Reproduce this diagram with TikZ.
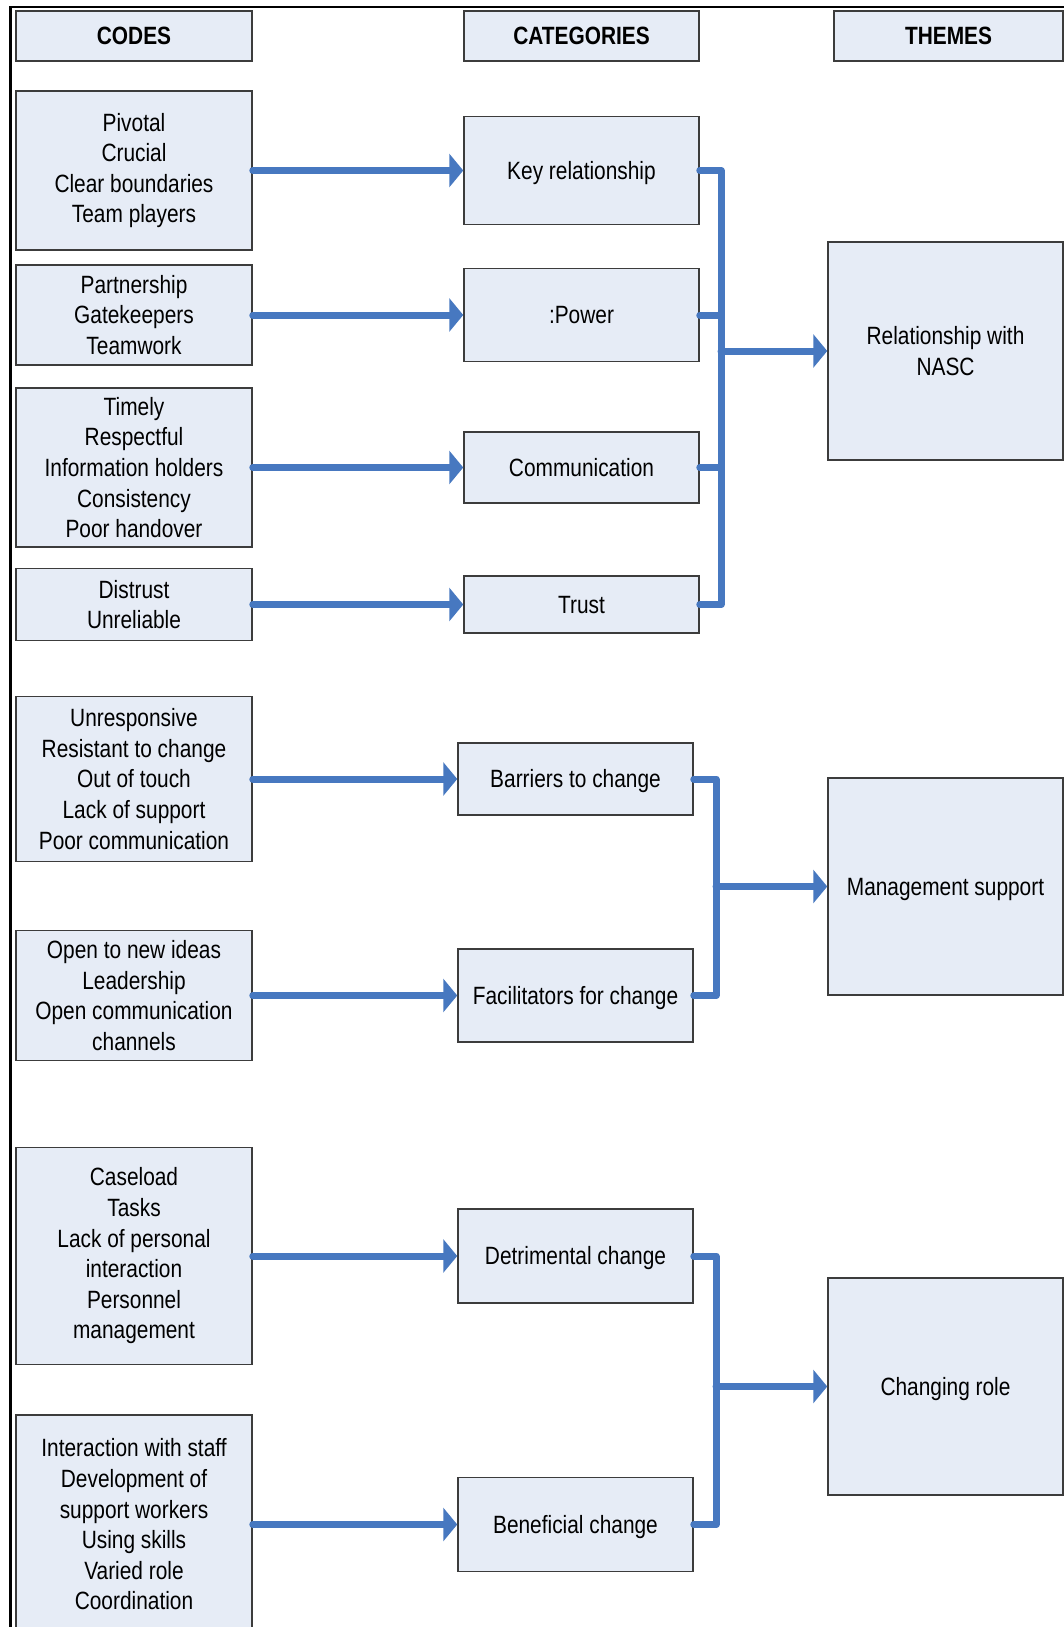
\documentclass[tikz,border=0pt]{standalone}
\usepackage{fontspec}
\setmainfont{Liberation Sans}[FakeStretch=0.835]
\usetikzlibrary{arrows.meta}
\definecolor{boxfill}{RGB}{230,236,246}
\definecolor{boxline}{RGB}{60,60,60}
\definecolor{flow}{RGB}{71,120,192}
\begin{document}
\begin{tikzpicture}[x=1pt,y=-1pt,
  box/.style={draw=boxline, line width=1.5pt, fill=boxfill, inner sep=0pt,
    align=center, font=\fontsize{25}{30.6}\selectfont},
  oneline/.style={text height=22.6pt, text depth=5.3pt},
  head/.style={box, font=\fontsize{25}{30.6}\selectfont\bfseries},
  codebox/.style={box, minimum width=236pt},
  catbox/.style={box, oneline, minimum width=235pt},
  themebox/.style={box, minimum width=235pt, minimum height=217pt},
  arr/.style={draw=flow, line width=7pt, line cap=round,
    -{Triangle[width=33pt,length=14pt]}},
  bar/.style={draw=flow, line width=7pt, line cap=round, line join=round},
  frame/.style={draw=black, line width=2.5pt}]
\useasboundingbox (0,0) rectangle (1064,1627);
\clip (0,0) rectangle (1064,1627);

% outer frame (left and top edges)
\draw[frame] (10.7,1640) |- (1070,7);

% column headings
\node[head, minimum width=236pt, minimum height=50pt] (hcodes) at (134,36) {CODES};
\node[head, minimum width=235pt, minimum height=50pt] (hcats) at (581.5,36) {CATEGORIES};
\node[head, minimum width=229pt, minimum height=50pt] (hthemes) at (948.5,36) {THEMES};

% codes
\node[codebox, minimum height=159pt] (c1) at (134,170.5) {Pivotal\\Crucial\\Clear boundaries\\Team players};
\node[codebox, minimum height=100pt] (c2) at (134,315) {Partnership\\Gatekeepers\\Teamwork};
\node[codebox, minimum height=159pt] (c3) at (134,467.5) {Timely\\Respectful\\Information holders\\Consistency\\Poor handover};
\node[codebox, minimum height=72pt] (c4) at (134,604.5) {Distrust\\Unreliable};
\node[codebox, minimum height=165pt] (c5) at (134,779) {Unresponsive\\Resistant to change\\Out of touch\\Lack of support\\Poor communication};
\node[codebox, minimum height=130pt] (c6) at (134,995.5) {Open to new ideas\\Leadership\\Open communication\\channels};
\node[codebox, minimum height=217pt] (c7) at (134,1256) {Caseload\\Tasks\\Lack of personal\\interaction\\Personnel\\management};
\node[codebox, minimum height=219pt] (c8) at (134,1524.5) {Interaction with staff\\Development of\\support workers\\Using skills\\Varied role\\Coordination};

% categories
\node[catbox, minimum height=108pt] (k1) at (581.5,170.5) {Key relationship};
\node[catbox, minimum height=93pt] (k2) at (581.5,315) {:Power};
\node[catbox, minimum height=71pt] (k3) at (581.5,467.5) {Communication};
\node[catbox, minimum height=57pt] (k4) at (581.5,604.5) {Trust};
\node[catbox, minimum height=72pt] (k5) at (575.5,779) {Barriers to change};
\node[catbox, minimum height=93pt] (k6) at (575.5,995.5) {Facilitators for change};
\node[catbox, minimum height=94pt] (k7) at (575.5,1256) {Detrimental change};
\node[catbox, minimum height=94pt] (k8) at (575.5,1524.5) {Beneficial change};

% themes
\node[themebox, minimum height=218pt] (t1) at (945.5,351) {Relationship with\\NASC};
\node[themebox, oneline] (t2) at (945.5,886.5) {Management support};
\node[themebox, oneline] (t3) at (945.5,1386.5) {Changing role};

% codes to categories
\foreach \i in {1,...,8}
  \draw[arr] (c\i.east) -- (k\i.west);

% junction points of the brackets
\coordinate (j1) at (721,351);
\coordinate (j2) at (716,886.5);
\coordinate (j3) at (716,1386.5);

% categories to themes
\draw[bar] (k1.east) -| (j1) |- (k4.east);
\draw[bar] (k2.east) -- (k2.east -| j1);
\draw[bar] (k3.east) -- (k3.east -| j1);
\draw[arr] (j1) -- (t1.west);

\draw[bar] (k5.east) -| (j2) |- (k6.east);
\draw[arr] (j2) -- (t2.west);

\draw[bar] (k7.east) -| (j3) |- (k8.east);
\draw[arr] (j3) -- (t3.west);
\end{tikzpicture}
\end{document}
